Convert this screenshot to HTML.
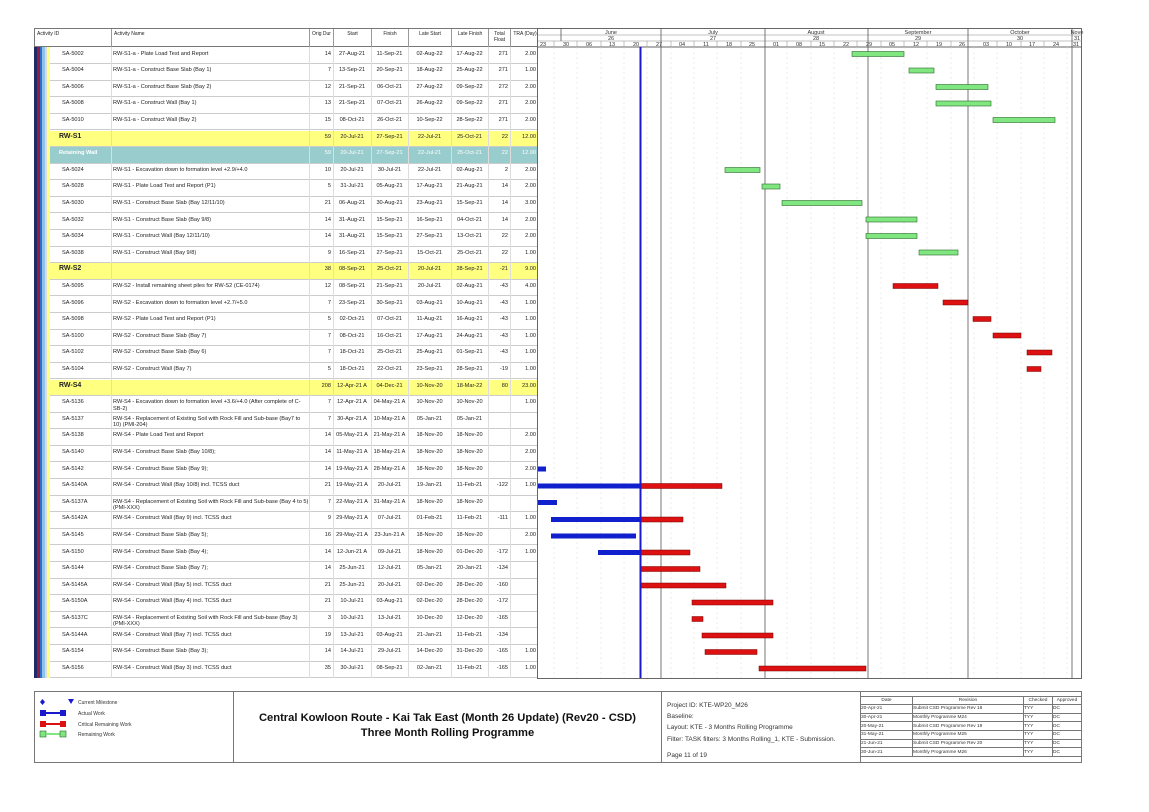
<!DOCTYPE html>
<html><head><meta charset="utf-8"><style>
*{margin:0;padding:0;box-sizing:border-box}
body{width:1149px;height:812px;background:#fff;position:relative;font-family:"Liberation Sans",sans-serif;font-size:5.6px;color:#222;overflow:hidden}
.a{position:absolute}
#hdr{position:absolute;left:34px;top:28px;width:504px;height:19px;border:1px solid #777;background:#fff}
#hdr div{position:absolute;top:0;height:19px;border-right:1px solid #999;padding:2px;font-size:5px;text-align:center}
.r{position:absolute;left:50px;width:488px;height:16.6px;border-bottom:1px solid #ccc;background:#fff}
.r div{position:absolute;top:3px;font-size:5.6px;white-space:nowrap}
.r .i{left:12px}.r .n{left:63px;white-space:normal;width:196px;line-height:6.5px}
.r .o{left:257px;width:24px;text-align:right}
.r .s{left:284px;width:36px;text-align:center}
.r .f{left:321px;width:37px;text-align:center}
.r .ls{left:358px;width:43px;text-align:center}
.r .lf{left:401px;width:37px;text-align:center}
.r .t{left:438px;width:20px;text-align:right}
.r .q{left:460px;width:26px;text-align:right}
.y{background:#ffff80}.y .i{font-weight:bold;font-size:7px;top:2px;left:9px}
.w{background:#99cccc;color:#fff}.w .i{font-weight:bold;left:9px}
.vl{position:absolute;top:47px;height:631px;width:1px;background:#ddd}
</style></head><body>
<div class="a" style="left:34px;top:47px;width:3px;height:631px;background:#1f2a6b"></div>
<div class="a" style="left:37px;top:47px;width:3px;height:631px;background:#8a2040"></div>
<div class="a" style="left:40px;top:47px;width:2px;height:631px;background:#2f6fd0"></div>
<div class="a" style="left:42px;top:47px;width:3px;height:631px;background:#8fc4ea"></div>
<div class="a" style="left:45px;top:47px;width:2px;height:631px;background:#ddd"></div>
<div class="a" style="left:47px;top:47px;width:3px;height:631px;background:#ffff80"></div>
<div id="hdr">
<div style="left:0;width:77px;text-align:left">Activity ID</div>
<div style="left:77px;width:198px;text-align:left">Activity Name</div>
<div style="left:275px;width:24px">Orig Dur</div>
<div style="left:299px;width:38px">Start</div>
<div style="left:337px;width:37px">Finish</div>
<div style="left:374px;width:43px">Late Start</div>
<div style="left:417px;width:37px">Late Finish</div>
<div style="left:454px;width:22px">Total Float</div>
<div style="left:476px;width:28px;border-right:none">TRA (Day)</div>
</div>
<div class="r" style="top:47.5px"><div class="i">SA-5002</div><div class="n">RW-S1-a - Plate Load Test and Report</div><div class="o">14</div><div class="s">27-Aug-21</div><div class="f">11-Sep-21</div><div class="ls">02-Aug-22</div><div class="lf">17-Aug-22</div><div class="t">271</div><div class="q">2.00</div></div>
<div class="r" style="top:64.1px"><div class="i">SA-5004</div><div class="n">RW-S1-a - Construct Base Slab (Bay 1)</div><div class="o">7</div><div class="s">13-Sep-21</div><div class="f">20-Sep-21</div><div class="ls">18-Aug-22</div><div class="lf">25-Aug-22</div><div class="t">271</div><div class="q">1.00</div></div>
<div class="r" style="top:80.7px"><div class="i">SA-5006</div><div class="n">RW-S1-a - Construct Base Slab (Bay 2)</div><div class="o">12</div><div class="s">21-Sep-21</div><div class="f">06-Oct-21</div><div class="ls">27-Aug-22</div><div class="lf">09-Sep-22</div><div class="t">272</div><div class="q">2.00</div></div>
<div class="r" style="top:97.3px"><div class="i">SA-5008</div><div class="n">RW-S1-a - Construct Wall (Bay 1)</div><div class="o">13</div><div class="s">21-Sep-21</div><div class="f">07-Oct-21</div><div class="ls">26-Aug-22</div><div class="lf">09-Sep-22</div><div class="t">271</div><div class="q">2.00</div></div>
<div class="r" style="top:113.9px"><div class="i">SA-5010</div><div class="n">RW-S1-a - Construct Wall (Bay 2)</div><div class="o">15</div><div class="s">08-Oct-21</div><div class="f">26-Oct-21</div><div class="ls">10-Sep-22</div><div class="lf">28-Sep-22</div><div class="t">271</div><div class="q">2.00</div></div>
<div class="r y" style="top:130.5px"><div class="i">RW-S1</div><div class="o">59</div><div class="s">20-Jul-21</div><div class="f">27-Sep-21</div><div class="ls">22-Jul-21</div><div class="lf">25-Oct-21</div><div class="t">22</div><div class="q">12.00</div></div>
<div class="r w" style="top:147.1px"><div class="i">Retaining Wall</div><div class="o">59</div><div class="s">20-Jul-21</div><div class="f">27-Sep-21</div><div class="ls">22-Jul-21</div><div class="lf">25-Oct-21</div><div class="t">22</div><div class="q">12.00</div></div>
<div class="r" style="top:163.7px"><div class="i">SA-5024</div><div class="n">RW-S1 - Excavation down to formation level +2.9/+4.0</div><div class="o">10</div><div class="s">20-Jul-21</div><div class="f">30-Jul-21</div><div class="ls">22-Jul-21</div><div class="lf">02-Aug-21</div><div class="t">2</div><div class="q">2.00</div></div>
<div class="r" style="top:180.3px"><div class="i">SA-5028</div><div class="n">RW-S1 - Plate Load Test and Report (P1)</div><div class="o">5</div><div class="s">31-Jul-21</div><div class="f">05-Aug-21</div><div class="ls">17-Aug-21</div><div class="lf">21-Aug-21</div><div class="t">14</div><div class="q">2.00</div></div>
<div class="r" style="top:196.9px"><div class="i">SA-5030</div><div class="n">RW-S1 - Construct Base Slab (Bay 12/11/10)</div><div class="o">21</div><div class="s">06-Aug-21</div><div class="f">30-Aug-21</div><div class="ls">23-Aug-21</div><div class="lf">15-Sep-21</div><div class="t">14</div><div class="q">3.00</div></div>
<div class="r" style="top:213.5px"><div class="i">SA-5032</div><div class="n">RW-S1 - Construct Base Slab (Bay 9/8)</div><div class="o">14</div><div class="s">31-Aug-21</div><div class="f">15-Sep-21</div><div class="ls">16-Sep-21</div><div class="lf">04-Oct-21</div><div class="t">14</div><div class="q">2.00</div></div>
<div class="r" style="top:230.1px"><div class="i">SA-5034</div><div class="n">RW-S1 - Construct Wall (Bay 12/11/10)</div><div class="o">14</div><div class="s">31-Aug-21</div><div class="f">15-Sep-21</div><div class="ls">27-Sep-21</div><div class="lf">13-Oct-21</div><div class="t">22</div><div class="q">2.00</div></div>
<div class="r" style="top:246.7px"><div class="i">SA-5038</div><div class="n">RW-S1 - Construct Wall (Bay 9/8)</div><div class="o">9</div><div class="s">16-Sep-21</div><div class="f">27-Sep-21</div><div class="ls">15-Oct-21</div><div class="lf">25-Oct-21</div><div class="t">22</div><div class="q">1.00</div></div>
<div class="r y" style="top:263.3px"><div class="i">RW-S2</div><div class="o">38</div><div class="s">08-Sep-21</div><div class="f">25-Oct-21</div><div class="ls">20-Jul-21</div><div class="lf">28-Sep-21</div><div class="t">-21</div><div class="q">9.00</div></div>
<div class="r" style="top:279.9px"><div class="i">SA-5095</div><div class="n">RW-S2 - Install remaining sheet piles for RW-S2 (CE-0174)</div><div class="o">12</div><div class="s">08-Sep-21</div><div class="f">21-Sep-21</div><div class="ls">20-Jul-21</div><div class="lf">02-Aug-21</div><div class="t">-43</div><div class="q">4.00</div></div>
<div class="r" style="top:296.5px"><div class="i">SA-5096</div><div class="n">RW-S2 - Excavation down to formation level +2.7/+5.0</div><div class="o">7</div><div class="s">23-Sep-21</div><div class="f">30-Sep-21</div><div class="ls">03-Aug-21</div><div class="lf">10-Aug-21</div><div class="t">-43</div><div class="q">1.00</div></div>
<div class="r" style="top:313.1px"><div class="i">SA-5098</div><div class="n">RW-S2 - Plate Load Test and Report (P1)</div><div class="o">5</div><div class="s">02-Oct-21</div><div class="f">07-Oct-21</div><div class="ls">11-Aug-21</div><div class="lf">16-Aug-21</div><div class="t">-43</div><div class="q">1.00</div></div>
<div class="r" style="top:329.7px"><div class="i">SA-5100</div><div class="n">RW-S2 - Construct Base Slab (Bay 7)</div><div class="o">7</div><div class="s">08-Oct-21</div><div class="f">16-Oct-21</div><div class="ls">17-Aug-21</div><div class="lf">24-Aug-21</div><div class="t">-43</div><div class="q">1.00</div></div>
<div class="r" style="top:346.3px"><div class="i">SA-5102</div><div class="n">RW-S2 - Construct Base Slab (Bay 6)</div><div class="o">7</div><div class="s">18-Oct-21</div><div class="f">25-Oct-21</div><div class="ls">25-Aug-21</div><div class="lf">01-Sep-21</div><div class="t">-43</div><div class="q">1.00</div></div>
<div class="r" style="top:362.9px"><div class="i">SA-5104</div><div class="n">RW-S2 - Construct Wall (Bay 7)</div><div class="o">5</div><div class="s">18-Oct-21</div><div class="f">22-Oct-21</div><div class="ls">23-Sep-21</div><div class="lf">28-Sep-21</div><div class="t">-19</div><div class="q">1.00</div></div>
<div class="r y" style="top:379.5px"><div class="i">RW-S4</div><div class="o">208</div><div class="s">12-Apr-21 A</div><div class="f">04-Dec-21</div><div class="ls">10-Nov-20</div><div class="lf">18-Mar-22</div><div class="t">80</div><div class="q">23.00</div></div>
<div class="r" style="top:396.1px"><div class="i">SA-5136</div><div class="n">RW-S4 - Excavation down to formation level +3.6/+4.0 (After complete of C-SB-2)</div><div class="o">7</div><div class="s">12-Apr-21 A</div><div class="f">04-May-21 A</div><div class="ls">10-Nov-20</div><div class="lf">10-Nov-20</div><div class="q">1.00</div></div>
<div class="r" style="top:412.7px"><div class="i">SA-5137</div><div class="n">RW-S4 - Replacement of Existing Soil with Rock Fill and Sub-base (Bay7 to 10) (PMI-204)</div><div class="o">7</div><div class="s">30-Apr-21 A</div><div class="f">10-May-21 A</div><div class="ls">05-Jan-21</div><div class="lf">05-Jan-21</div></div>
<div class="r" style="top:429.3px"><div class="i">SA-5138</div><div class="n">RW-S4 - Plate Load Test and Report</div><div class="o">14</div><div class="s">05-May-21 A</div><div class="f">21-May-21 A</div><div class="ls">18-Nov-20</div><div class="lf">18-Nov-20</div><div class="q">2.00</div></div>
<div class="r" style="top:445.9px"><div class="i">SA-5140</div><div class="n">RW-S4 - Construct Base Slab (Bay 10/8);</div><div class="o">14</div><div class="s">11-May-21 A</div><div class="f">18-May-21 A</div><div class="ls">18-Nov-20</div><div class="lf">18-Nov-20</div><div class="q">2.00</div></div>
<div class="r" style="top:462.5px"><div class="i">SA-5142</div><div class="n">RW-S4 - Construct Base Slab (Bay 9);</div><div class="o">14</div><div class="s">19-May-21 A</div><div class="f">28-May-21 A</div><div class="ls">18-Nov-20</div><div class="lf">18-Nov-20</div><div class="q">2.00</div></div>
<div class="r" style="top:479.1px"><div class="i">SA-5140A</div><div class="n">RW-S4 - Construct Wall (Bay 10/8) incl. TCSS duct</div><div class="o">21</div><div class="s">19-May-21 A</div><div class="f">20-Jul-21</div><div class="ls">19-Jan-21</div><div class="lf">11-Feb-21</div><div class="t">-122</div><div class="q">1.00</div></div>
<div class="r" style="top:495.7px"><div class="i">SA-5137A</div><div class="n">RW-S4 - Replacement of Existing Soil with Rock Fill and Sub-base (Bay 4 to 5) (PMI-XXX)</div><div class="o">7</div><div class="s">22-May-21 A</div><div class="f">31-May-21 A</div><div class="ls">18-Nov-20</div><div class="lf">18-Nov-20</div></div>
<div class="r" style="top:512.3px"><div class="i">SA-5142A</div><div class="n">RW-S4 - Construct Wall (Bay 9) incl. TCSS duct</div><div class="o">9</div><div class="s">29-May-21 A</div><div class="f">07-Jul-21</div><div class="ls">01-Feb-21</div><div class="lf">11-Feb-21</div><div class="t">-111</div><div class="q">1.00</div></div>
<div class="r" style="top:528.9px"><div class="i">SA-5145</div><div class="n">RW-S4 - Construct Base Slab (Bay 5);</div><div class="o">16</div><div class="s">29-May-21 A</div><div class="f">23-Jun-21 A</div><div class="ls">18-Nov-20</div><div class="lf">18-Nov-20</div><div class="q">2.00</div></div>
<div class="r" style="top:545.5px"><div class="i">SA-5150</div><div class="n">RW-S4 - Construct Base Slab (Bay 4);</div><div class="o">14</div><div class="s">12-Jun-21 A</div><div class="f">09-Jul-21</div><div class="ls">18-Nov-20</div><div class="lf">01-Dec-20</div><div class="t">-172</div><div class="q">1.00</div></div>
<div class="r" style="top:562.1px"><div class="i">SA-5144</div><div class="n">RW-S4 - Construct Base Slab (Bay 7);</div><div class="o">14</div><div class="s">25-Jun-21</div><div class="f">12-Jul-21</div><div class="ls">05-Jan-21</div><div class="lf">20-Jan-21</div><div class="t">-134</div></div>
<div class="r" style="top:578.7px"><div class="i">SA-5145A</div><div class="n">RW-S4 - Construct Wall (Bay 5) incl. TCSS duct</div><div class="o">21</div><div class="s">25-Jun-21</div><div class="f">20-Jul-21</div><div class="ls">02-Dec-20</div><div class="lf">28-Dec-20</div><div class="t">-160</div></div>
<div class="r" style="top:595.3px"><div class="i">SA-5150A</div><div class="n">RW-S4 - Construct Wall (Bay 4) incl. TCSS duct</div><div class="o">21</div><div class="s">10-Jul-21</div><div class="f">03-Aug-21</div><div class="ls">02-Dec-20</div><div class="lf">28-Dec-20</div><div class="t">-172</div></div>
<div class="r" style="top:611.9px"><div class="i">SA-5137C</div><div class="n">RW-S4 - Replacement of Existing Soil with Rock Fill and Sub-base (Bay 3) (PMI-XXX)</div><div class="o">3</div><div class="s">10-Jul-21</div><div class="f">13-Jul-21</div><div class="ls">10-Dec-20</div><div class="lf">12-Dec-20</div><div class="t">-165</div></div>
<div class="r" style="top:628.5px"><div class="i">SA-5144A</div><div class="n">RW-S4 - Construct Wall (Bay 7) incl. TCSS duct</div><div class="o">19</div><div class="s">13-Jul-21</div><div class="f">03-Aug-21</div><div class="ls">21-Jan-21</div><div class="lf">11-Feb-21</div><div class="t">-134</div></div>
<div class="r" style="top:645.1px"><div class="i">SA-5154</div><div class="n">RW-S4 - Construct Base Slab (Bay 3);</div><div class="o">14</div><div class="s">14-Jul-21</div><div class="f">29-Jul-21</div><div class="ls">14-Dec-20</div><div class="lf">31-Dec-20</div><div class="t">-165</div><div class="q">1.00</div></div>
<div class="r" style="top:661.7px"><div class="i">SA-5156</div><div class="n">RW-S4 - Construct Wall (Bay 3) incl. TCSS duct</div><div class="o">35</div><div class="s">30-Jul-21</div><div class="f">08-Sep-21</div><div class="ls">02-Jan-21</div><div class="lf">11-Feb-21</div><div class="t">-165</div><div class="q">1.00</div></div>
<div class="vl" style="left:111px"></div><div class="vl" style="left:309px"></div><div class="vl" style="left:333px"></div><div class="vl" style="left:371px"></div><div class="vl" style="left:408px"></div><div class="vl" style="left:451px"></div><div class="vl" style="left:488px"></div><div class="vl" style="left:510px"></div>
<svg class="a" style="left:0;top:0" width="1149" height="812" font-family="Liberation Sans, sans-serif" font-size="5.5" fill="#333">
<rect x="537.5" y="28.5" width="544" height="650" fill="none" stroke="#666"/>
<line x1="538" y1="35" x2="1082" y2="35" stroke="#888" stroke-width="0.6"/>
<line x1="538" y1="41" x2="1082" y2="41" stroke="#888" stroke-width="0.6"/>
<line x1="538" y1="47" x2="1082" y2="47" stroke="#666"/>
<g stroke="#555" stroke-width="0.8"><line x1="561" y1="28" x2="561" y2="41"/><line x1="661" y1="28" x2="661" y2="678"/><line x1="765" y1="28" x2="765" y2="678"/><line x1="868" y1="28" x2="868" y2="678"/><line x1="968" y1="28" x2="968" y2="678"/><line x1="1072" y1="28" x2="1072" y2="678"/></g>
<g stroke="#d8d8d8" stroke-width="0.5" stroke-dasharray="2,3">
<line x1="554" y1="47" x2="554" y2="678"/><line x1="577" y1="47" x2="577" y2="678"/><line x1="601" y1="47" x2="601" y2="678"/><line x1="624" y1="47" x2="624" y2="678"/><line x1="647" y1="47" x2="647" y2="678"/><line x1="671" y1="47" x2="671" y2="678"/><line x1="694" y1="47" x2="694" y2="678"/><line x1="717" y1="47" x2="717" y2="678"/><line x1="741" y1="47" x2="741" y2="678"/><line x1="787" y1="47" x2="787" y2="678"/><line x1="811" y1="47" x2="811" y2="678"/><line x1="834" y1="47" x2="834" y2="678"/><line x1="857" y1="47" x2="857" y2="678"/><line x1="881" y1="47" x2="881" y2="678"/><line x1="904" y1="47" x2="904" y2="678"/><line x1="927" y1="47" x2="927" y2="678"/><line x1="951" y1="47" x2="951" y2="678"/><line x1="974" y1="47" x2="974" y2="678"/><line x1="997" y1="47" x2="997" y2="678"/><line x1="1021" y1="47" x2="1021" y2="678"/><line x1="1044" y1="47" x2="1044" y2="678"/><line x1="1067" y1="47" x2="1067" y2="678"/>
</g>
<g stroke="#888" stroke-width="0.5"><line x1="554" y1="41" x2="554" y2="47"/><line x1="577" y1="41" x2="577" y2="47"/><line x1="601" y1="41" x2="601" y2="47"/><line x1="624" y1="41" x2="624" y2="47"/><line x1="647" y1="41" x2="647" y2="47"/><line x1="671" y1="41" x2="671" y2="47"/><line x1="694" y1="41" x2="694" y2="47"/><line x1="717" y1="41" x2="717" y2="47"/><line x1="741" y1="41" x2="741" y2="47"/><line x1="787" y1="41" x2="787" y2="47"/><line x1="811" y1="41" x2="811" y2="47"/><line x1="834" y1="41" x2="834" y2="47"/><line x1="857" y1="41" x2="857" y2="47"/><line x1="881" y1="41" x2="881" y2="47"/><line x1="904" y1="41" x2="904" y2="47"/><line x1="927" y1="41" x2="927" y2="47"/><line x1="951" y1="41" x2="951" y2="47"/><line x1="997" y1="41" x2="997" y2="47"/><line x1="1021" y1="41" x2="1021" y2="47"/><line x1="1044" y1="41" x2="1044" y2="47"/></g>
<g text-anchor="middle">
<text x="611" y="34">June</text><text x="713" y="34">July</text><text x="816" y="34">August</text><text x="918" y="34">September</text><text x="1020" y="34">October</text><text x="1077" y="34">Nove</text>
<text x="611" y="40">26</text><text x="713" y="40">27</text><text x="816" y="40">28</text><text x="918" y="40">29</text><text x="1020" y="40">30</text><text x="1077" y="40">31</text>
<text x="543" y="46">23</text><text x="566" y="46">30</text><text x="589" y="46">06</text><text x="612" y="46">13</text><text x="636" y="46">20</text><text x="659" y="46">27</text><text x="682" y="46">04</text><text x="706" y="46">11</text><text x="729" y="46">18</text><text x="752" y="46">25</text><text x="776" y="46">01</text><text x="799" y="46">08</text><text x="822" y="46">15</text><text x="846" y="46">22</text><text x="869" y="46">29</text><text x="892" y="46">05</text><text x="916" y="46">12</text><text x="939" y="46">19</text><text x="962" y="46">26</text><text x="986" y="46">03</text><text x="1009" y="46">10</text><text x="1032" y="46">17</text><text x="1056" y="46">24</text><text x="1076" y="46">31</text>
</g>
<g fill="#80e680" stroke="#2a6a2a" stroke-width="0.6">
<rect x="852" y="51.5" width="52" height="5"/><rect x="909" y="68" width="25" height="5"/><rect x="936" y="84.5" width="52" height="5"/><rect x="936" y="101" width="55" height="5"/><rect x="993" y="117.5" width="62" height="5"/>
<rect x="725" y="167.5" width="35" height="5"/><rect x="762" y="184" width="18" height="5"/><rect x="782" y="200.5" width="80" height="5"/><rect x="866" y="217" width="51" height="5"/><rect x="866" y="233.5" width="51" height="5"/><rect x="919" y="250" width="39" height="5"/>
</g>
<g fill="#dd1111" stroke="#700" stroke-width="0.5">
<rect x="893" y="283.5" width="45" height="5"/><rect x="943" y="300" width="25" height="5"/><rect x="973" y="316.5" width="18" height="5"/><rect x="993" y="333" width="28" height="5"/><rect x="1027" y="350" width="25" height="5"/><rect x="1027" y="366.5" width="14" height="5"/>
<rect x="640" y="483.5" width="82" height="5"/><rect x="640" y="517" width="43" height="5"/><rect x="640" y="550" width="50" height="5"/><rect x="641" y="566.5" width="59" height="5"/><rect x="641" y="583" width="85" height="5"/><rect x="692" y="600" width="81" height="5"/><rect x="692" y="616.5" width="11" height="5"/><rect x="702" y="633" width="71" height="5"/><rect x="705" y="649.5" width="52" height="5"/><rect x="759" y="666" width="107" height="5"/>
</g>
<g fill="#1020cc">
<rect x="538" y="466.5" width="8" height="5"/><rect x="538" y="483.5" width="102" height="5"/><rect x="538" y="500" width="19" height="5"/><rect x="551" y="517" width="89" height="5"/><rect x="551" y="533.5" width="85" height="5"/><rect x="598" y="550" width="42" height="5"/>
</g>
<line x1="640.5" y1="47" x2="640.5" y2="678" stroke="#1a1acc" stroke-width="2"/>
</svg>
<div class="a" style="left:34px;top:691px;width:1048px;height:72px;border:1px solid #777"></div>
<div class="a" style="left:233px;top:691px;width:1px;height:72px;background:#777"></div>
<div class="a" style="left:661px;top:691px;width:1px;height:72px;background:#777"></div>
<div class="a" style="left:860px;top:691px;width:1px;height:72px;background:#777"></div>
<svg class="a" style="left:34px;top:691px" width="200" height="72">
<polygon points="6,11 8.5,8 11,11 8.5,14" fill="#1a1acc"/><polygon points="34,8 40,8 37,13" fill="#1a1acc"/>
<rect x="6" y="19" width="6" height="6" fill="#1a1acc"/><rect x="12" y="21" width="14" height="2" fill="#1a1acc"/><rect x="26" y="19" width="6" height="6" fill="#1a1acc"/>
<rect x="6" y="30" width="6" height="6" fill="#dd1111"/><rect x="12" y="32" width="14" height="2" fill="#dd1111"/><rect x="26" y="30" width="6" height="6" fill="#dd1111"/>
<rect x="6" y="40" width="6" height="6" fill="#80e680" stroke="#2a6a2a" stroke-width="0.6"/><rect x="12" y="42" width="14" height="2" fill="#80e680"/><rect x="26" y="40" width="6" height="6" fill="#80e680" stroke="#2a6a2a" stroke-width="0.6"/>
<g font-family="Liberation Sans, sans-serif" font-size="5" fill="#333"><text x="44" y="13">Current Milestone</text><text x="44" y="24">Actual Work</text><text x="44" y="35">Critical Remaining Work</text><text x="44" y="45">Remaining Work</text></g>
</svg>
<div class="a" style="left:234px;top:711px;width:427px;text-align:center;font-size:11.2px;font-weight:bold;line-height:15px;color:#111">Central Kowloon Route - Kai Tak East (Month 26 Update) (Rev20 - CSD)<br>Three Month Rolling Programme</div>
<div class="a" style="left:667px;top:700px;font-size:6.5px;line-height:11.2px;color:#333">Project ID: KTE-WP20_M26<br>Baseline:<br>Layout: KTE - 3 Months Rolling Programme<br>Filter: TASK filters: 3 Months Rolling_1, KTE - Submission.</div>
<div class="a" style="left:667px;top:752px;font-size:6.5px;color:#333">Page 11 of 19</div>
<table class="a" style="left:860px;top:696px;width:222px;border-collapse:collapse;font-size:4.8px;color:#333">
<tr style="height:8px"><td style="width:52px;text-align:center;border:0.5px solid #777">Date</td><td style="width:111px;text-align:center;border:0.5px solid #777">Revision</td><td style="width:29px;text-align:center;border:0.5px solid #777">Checked</td><td style="text-align:center;border:0.5px solid #777">Approved</td></tr>
<tr style="height:8.7px"><td style="border:0.5px solid #777">20-Apr-21</td><td style="border:0.5px solid #777">Submit CSD Programme Rev 18</td><td style="border:0.5px solid #777">TYY</td><td style="border:0.5px solid #777">DC</td></tr>
<tr style="height:8.7px"><td style="border:0.5px solid #777">30-Apr-21</td><td style="border:0.5px solid #777">Monthly Programme M24</td><td style="border:0.5px solid #777">TYY</td><td style="border:0.5px solid #777">DC</td></tr>
<tr style="height:8.7px"><td style="border:0.5px solid #777">20-May-21</td><td style="border:0.5px solid #777">Submit CSD Programme Rev 19</td><td style="border:0.5px solid #777">TYY</td><td style="border:0.5px solid #777">DC</td></tr>
<tr style="height:8.7px"><td style="border:0.5px solid #777">31-May-21</td><td style="border:0.5px solid #777">Monthly Programme M25</td><td style="border:0.5px solid #777">TYY</td><td style="border:0.5px solid #777">DC</td></tr>
<tr style="height:8.7px"><td style="border:0.5px solid #777">21-Jun-21</td><td style="border:0.5px solid #777">Submit CSD Programme Rev 20</td><td style="border:0.5px solid #777">TYY</td><td style="border:0.5px solid #777">DC</td></tr>
<tr style="height:8.7px"><td style="border:0.5px solid #777">30-Jun-21</td><td style="border:0.5px solid #777">Monthly Programme M26</td><td style="border:0.5px solid #777">TYY</td><td style="border:0.5px solid #777">DC</td></tr>
</table>
</body></html>
